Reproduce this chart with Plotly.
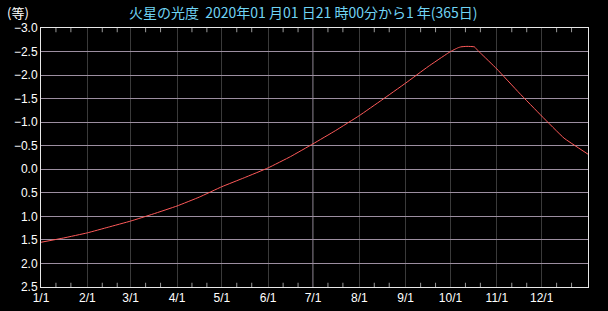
import plotly.graph_objects as go

# Data (Mars magnitude, 2020)
dates = ["2020-01-01", "2020-01-16", "2020-02-01", "2020-02-15", "2020-03-01", "2020-03-16",
         "2020-04-01", "2020-04-16", "2020-05-01", "2020-05-16", "2020-06-01", "2020-06-16",
         "2020-07-01", "2020-07-16", "2020-08-01", "2020-08-16", "2020-09-01", "2020-09-16",
         "2020-09-29", "2020-10-01", "2020-10-04", "2020-10-06", "2020-10-08", "2020-10-12",
         "2020-10-17", "2020-10-19", "2020-10-21", "2020-11-01", "2020-11-16", "2020-12-01",
         "2020-12-16", "2021-01-01"]
magnitude = [1.55, 1.46, 1.35, 1.23, 1.10, 0.95,
             0.78, 0.59, 0.37, 0.18, -0.03, -0.27,
             -0.54, -0.82, -1.14, -1.47, -1.83, -2.18,
             -2.46, -2.50, -2.55, -2.58, -2.60, -2.61,
             -2.60, -2.53, -2.47, -2.13, -1.62, -1.13,
             -0.66, -0.32]

month_ticks = ["2020-%02d-01" % m for m in range(1, 13)]
month_labels = ["%d/1" % m for m in range(1, 13)]
minor_ticks = ["2020-%02d-%02d" % (m, d) for m in range(1, 13) for d in (11, 21)]
highlight_month = "2020-07-01"
x_range = ["2020-01-01", "2021-01-01"]
y_range = [2.5, -3.0]

title_text = "火星の光度  2020年01 月01 日21 時00分から1 年(365日)"
unit_text = "(等)"

fig = go.Figure()
fig.add_trace(go.Scatter(x=dates, y=magnitude, mode="lines",
                         line=dict(color="#ff5a5a", width=1, shape="spline", smoothing=0.3),
                         hoverinfo="skip"))
# short inside minor ticks on the top and bottom edges
tick_x, tick_y = [], []
tick_span = 0.09  # about 4 px
for d in minor_ticks:
    tick_x += [d, d, None, d, d, None]
    tick_y += [y_range[1], y_range[1] + tick_span, None, y_range[0], y_range[0] - tick_span, None]
fig.add_trace(go.Scatter(x=tick_x, y=tick_y, mode="lines", hoverinfo="skip",
                         line=dict(color="#9a9a9a", width=1), connectgaps=False))

fig.add_shape(type="line", xref="x", yref="paper", x0=highlight_month, x1=highlight_month,
              y0=0, y1=1, line=dict(color="#a898b0", width=1), layer="below")

fig.update_layout(
    width=608, height=311,
    margin=dict(l=41, r=20, t=28, b=24),
    paper_bgcolor="#000000", plot_bgcolor="#000000",
    showlegend=False,
    font=dict(family="Liberation Sans, Arial, sans-serif", size=12, color="#ffffff"),
    xaxis=dict(
        range=x_range, automargin=False,
        tickvals=month_ticks, ticktext=month_labels,
        showgrid=True, gridcolor="#3a3a3a", gridwidth=1,
        showline=True, linecolor="#e8e8e8", linewidth=1, mirror=True,
        ticks="", tickfont=dict(size=12, color="#ffffff"),
        zeroline=False, fixedrange=True,
    ),
    yaxis=dict(
        range=y_range, dtick=0.5, tick0=0, tickformat=".1f", automargin=False,
        showgrid=True, gridcolor="#9c8ea0", gridwidth=1,
        showline=True, linecolor="#e8e8e8", linewidth=1, mirror=True,
        ticks="", tickfont=dict(size=12, color="#ffffff"),
        zeroline=False, fixedrange=True,
    ),
)

fig.add_annotation(text=title_text, xref="paper", yref="paper", x=0.48, y=1,
                   yshift=16, xanchor="center", yanchor="middle", showarrow=False,
                   font=dict(family="Noto Sans CJK JP", size=14, color="#70d4f4"))
fig.add_annotation(text=unit_text, xref="paper", yref="paper", x=0, y=1,
                   xshift=-36, yshift=16, xanchor="left", yanchor="middle", showarrow=False,
                   font=dict(family="Noto Sans CJK JP", size=13, color="#ffffff"))

fig.write_html("out.html")
